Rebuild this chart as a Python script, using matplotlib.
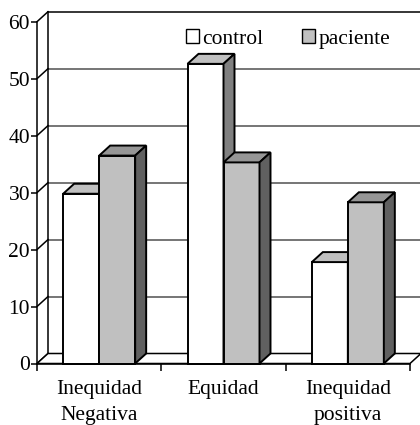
import matplotlib
matplotlib.use("Agg")
import matplotlib.pyplot as plt
from matplotlib.patches import Polygon, Patch

categories = ["Inequidad\nNegativa", "Equidad", "Inequidad\npositiva"]
series_names = ["control", "paciente"]
control = [29.8, 52.6, 17.8]
paciente = [36.5, 35.3, 28.3]
yticks = [0, 10, 20, 30, 40, 50, 60]

FONT = "Liberation Serif"
FS = 15.5
plt.rcParams["font.family"] = [FONT, "DejaVu Serif"]

W, H = 420, 425
fig = plt.figure(figsize=(W / 100, H / 100), dpi=100)
fig.patch.set_facecolor("white")

# front plane: x 0..3 -> px 37..410, y 0..60 -> px 363.5..21.7
x0, x1 = 37, 410
y0, y1 = 363.5, 21.7
ax = fig.add_axes([x0 / W, (H - y0) / H, (x1 - x0) / W, (y0 - y1) / H])
ncat = len(categories)
ymax = 60
ax.set_xlim(0, ncat)
ax.set_ylim(0, ymax)
ax.set_facecolor("none")

# depth offset in data units
dx = 11 / ((x1 - x0) / ncat)
dy = 10 / ((y0 - y1) / ymax)

lw = 1.1
# back wall
ax.add_patch(Polygon([(dx, dy), (ncat + dx, dy), (ncat + dx, ymax + dy), (dx, ymax + dy)],
                     closed=True, facecolor="white", edgecolor="none", clip_on=False, zorder=0))
# gridlines on back wall + side wall diagonals
for v in yticks:
    ax.plot([dx, ncat + dx], [v + dy, v + dy], color="#505050" if v not in (0, 60) else "black",
            lw=lw, clip_on=False, zorder=1)
    ax.plot([0, dx], [v, v + dy], color="black", lw=lw, clip_on=False, zorder=1)
# back wall left edge
ax.plot([dx, dx], [dy, ymax + dy], color="black", lw=lw, clip_on=False, zorder=1)
# floor
ax.add_patch(Polygon([(0, 0), (ncat, 0), (ncat + dx, dy), (dx, dy)], closed=True,
                     facecolor="white", edgecolor="black", lw=lw, clip_on=False, zorder=1))

# bars
bw = 36 / ((x1 - x0) / ncat)
colors = {
    "control": ("white", "#C0C0C0", "#808080"),
    "paciente": ("#C0C0C0", "#969696", "#606060"),
}

def bar3d(xl, h, cols, z):
    front, top, side = cols
    xr = xl + bw
    ax.add_patch(Polygon([(xl, 0), (xr, 0), (xr, h), (xl, h)], closed=True,
                         facecolor=front, edgecolor="black", lw=lw + 0.3, zorder=z, clip_on=False))
    ax.add_patch(Polygon([(xl, h), (xr, h), (xr + dx, h + dy), (xl + dx, h + dy)], closed=True,
                         facecolor=top, edgecolor="black", lw=lw + 0.3, zorder=z, clip_on=False))
    ax.add_patch(Polygon([(xr, 0), (xr + dx, dy), (xr + dx, h + dy), (xr, h)], closed=True,
                         facecolor=side, edgecolor="black", lw=lw + 0.3, zorder=z, clip_on=False))

z = 3
for i in range(ncat):
    c = i + 0.5
    bar3d(c - bw, control[i], colors["control"], z)
    z += 1
    bar3d(c, paciente[i], colors["paciente"], z)
    z += 1

# axes styling
for s in ["top", "right"]:
    ax.spines[s].set_visible(False)
for s in ["left", "bottom"]:
    ax.spines[s].set_linewidth(lw)
    ax.spines[s].set_zorder(20)
ax.set_yticks(yticks)
ax.set_yticklabels([str(v) for v in yticks], fontsize=FS, family=FONT)
ax.tick_params(axis="y", direction="out", length=4, width=lw, pad=1)
ax.set_xticks(range(ncat + 1))
ax.set_xticklabels([])
ax.tick_params(axis="x", which="major", direction="out", length=5, width=lw)
ax.set_xticks([i + 0.5 for i in range(ncat)], minor=True)
ax.set_xticklabels(categories, minor=True, fontsize=FS, family=FONT, linespacing=1.5)
ax.tick_params(axis="x", which="minor", length=0, pad=12)

handles = [Patch(facecolor=colors[n][0], edgecolor="black", lw=1.0, label=n) for n in series_names]
fig.legend(handles=handles, loc="center left", bbox_to_anchor=(186 / W, 1 - 39 / H),
           ncol=2, frameon=False, prop={"family": FONT, "size": FS},
           handlelength=0.6, handleheight=0.6, handletextpad=0.15, columnspacing=1.8,
           borderpad=0, borderaxespad=0)

fig.savefig("out.png", dpi=100, facecolor="white")
